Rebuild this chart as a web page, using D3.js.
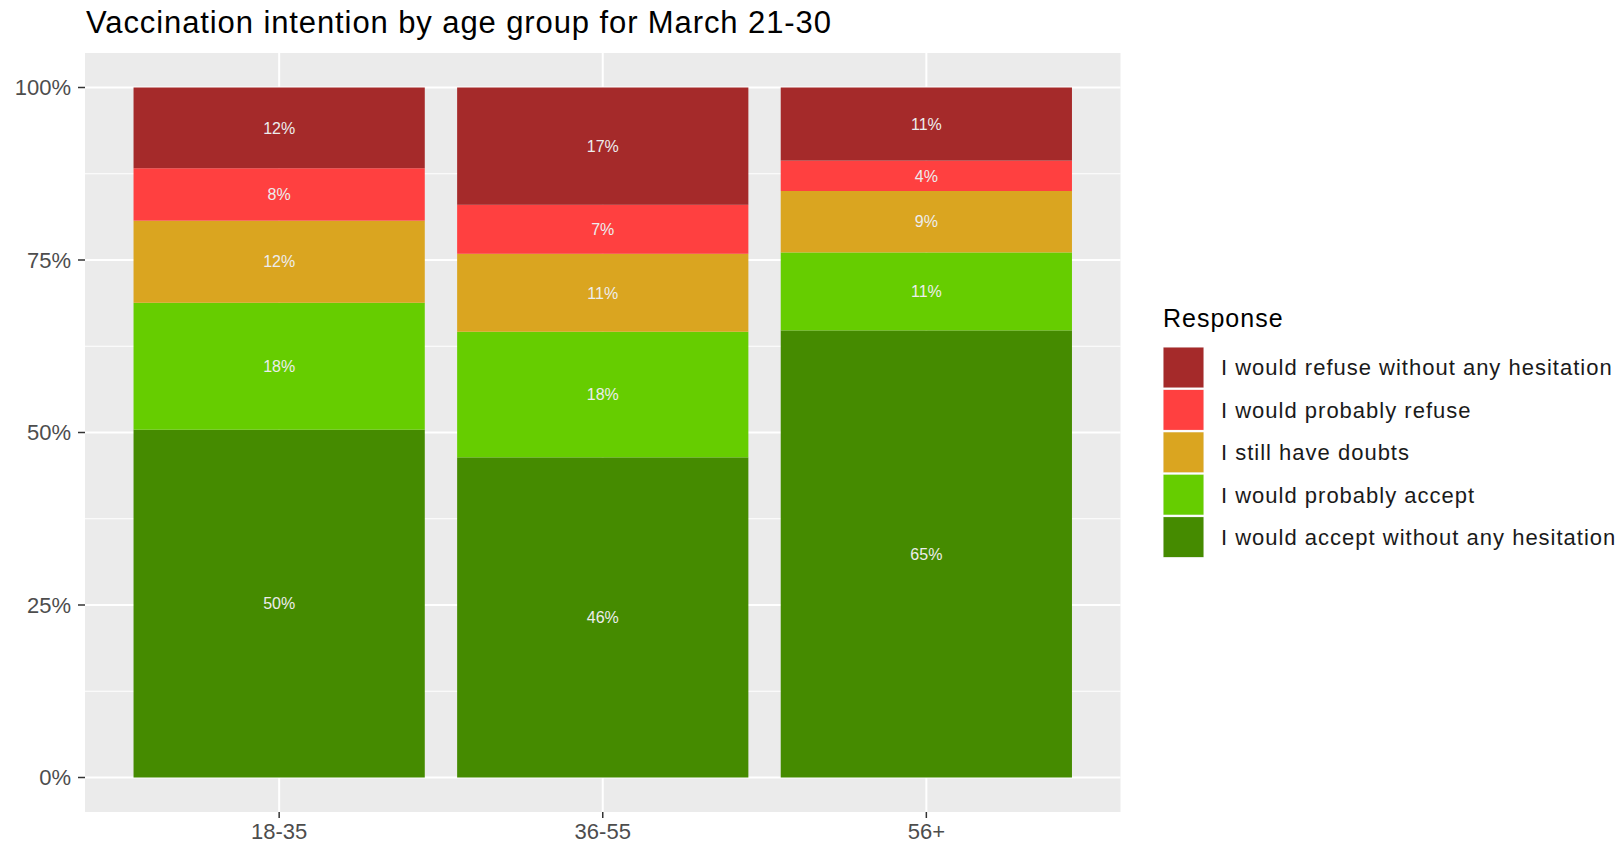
<!DOCTYPE html>
<html>
<head>
<meta charset="utf-8">
<script src="https://cdn.jsdelivr.net/npm/d3@7"></script>
<style>
  html, body { margin: 0; padding: 0; background: #fff; }
  svg { display: block; font-family: "Liberation Sans", Arial, Helvetica, sans-serif; }
</style>
</head>
<body>
<svg id="chart" width="1622" height="844"></svg>
<script>
// ---- data ----
const title = "Vaccination intention by age group for March 21-30";
const ageGroups = ["18-35", "36-55", "56+"];
// stacking order from bottom to top
const responses = [
  "I would accept without any hesitation",
  "I would probably accept",
  "I still have doubts",
  "I would probably refuse",
  "I would refuse without any hesitation"
];
const acceptNoHesitation = [50.4, 46.4, 64.8];
const probablyAccept     = [18.4, 18.2, 11.3];
const stillDoubts        = [11.9, 11.3, 8.9];
const probablyRefuse     = [7.6, 7.1, 4.4];
const refuseNoHesitation = [11.7, 17.0, 10.6];
const yTicks = [0, 25, 50, 75, 100];
const legendTitle = "Response";

const seriesValues = [acceptNoHesitation, probablyAccept, stillDoubts, probablyRefuse, refuseNoHesitation];
const colors = ["#458B00", "#66CD00", "#DAA520", "#FF4040", "#A52A2A"];

// ---- layout ----
const panel = { left: 85, right: 1120.5, top: 53, bottom: 812 };
const svg = d3.select("#chart");

// scales (ggplot-like expansion)
const x = d3.scaleLinear().domain([0.4, 3.6]).range([panel.left, panel.right]);
const y = d3.scaleLinear().domain([-5, 105]).range([panel.bottom, panel.top]);
const barWidth = (x(1.9) - x(1));

// table for stack
const table = ageGroups.map((g, i) => {
  const row = { group: g };
  responses.forEach((r, k) => row[r] = seriesValues[k][i]);
  return row;
});
const stack = d3.stack().keys(responses);
const stacked = stack(table);

// panel background
svg.append("rect")
  .attr("x", panel.left).attr("y", panel.top)
  .attr("width", panel.right - panel.left).attr("height", panel.bottom - panel.top)
  .attr("fill", "#EBEBEB");

// minor gridlines
const minor = [12.5, 37.5, 62.5, 87.5];
svg.append("g").selectAll("line").data(minor).join("line")
  .attr("x1", panel.left).attr("x2", panel.right)
  .attr("y1", d => y(d)).attr("y2", d => y(d))
  .attr("stroke", "#fff").attr("stroke-width", 1);
// major y gridlines
svg.append("g").selectAll("line").data(yTicks).join("line")
  .attr("x1", panel.left).attr("x2", panel.right)
  .attr("y1", d => y(d)).attr("y2", d => y(d))
  .attr("stroke", "#fff").attr("stroke-width", 2);
// major x gridlines
svg.append("g").selectAll("line").data(ageGroups).join("line")
  .attr("x1", (d, i) => x(i + 1)).attr("x2", (d, i) => x(i + 1))
  .attr("y1", panel.top).attr("y2", panel.bottom)
  .attr("stroke", "#fff").attr("stroke-width", 2);

// bars
const layers = svg.append("g").selectAll("g").data(stacked).join("g")
  .attr("fill", (d, k) => colors[k]);
layers.selectAll("rect").data(d => d).join("rect")
  .attr("x", (d, i) => x(i + 1) - barWidth / 2)
  .attr("width", barWidth)
  .attr("y", d => y(d[1]))
  .attr("height", d => y(d[0]) - y(d[1]));

// bar labels
const labelG = svg.append("g");
stacked.forEach((layer) => {
  layer.forEach((d, i) => {
    labelG.append("text")
      .attr("x", x(i + 1))
      .attr("y", y((d[0] + d[1]) / 2))
      .attr("dy", "0.36em")
      .attr("text-anchor", "middle")
      .attr("font-size", 16)
      .attr("fill", "#EDEDED")
      .text(Math.round(d[1] - d[0]) + "%");
  });
});

// y axis
const yAxis = svg.append("g");
yAxis.selectAll("line").data(yTicks).join("line")
  .attr("x1", panel.left - 7).attr("x2", panel.left)
  .attr("y1", d => y(d)).attr("y2", d => y(d))
  .attr("stroke", "#333").attr("stroke-width", 1.5);
yAxis.selectAll("text").data(yTicks).join("text")
  .attr("x", panel.left - 14)
  .attr("y", d => y(d))
  .attr("dy", "0.36em")
  .attr("text-anchor", "end")
  .attr("font-size", 22)
  .attr("fill", "#4D4D4D")
  .text(d => d + "%");

// x axis
const xAxis = svg.append("g");
xAxis.selectAll("line").data(ageGroups).join("line")
  .attr("x1", (d, i) => x(i + 1)).attr("x2", (d, i) => x(i + 1))
  .attr("y1", panel.bottom).attr("y2", panel.bottom + 6)
  .attr("stroke", "#333").attr("stroke-width", 1.5);
xAxis.selectAll("text").data(ageGroups).join("text")
  .attr("x", (d, i) => x(i + 1))
  .attr("y", 839)
  .attr("text-anchor", "middle")
  .attr("font-size", 22)
  .attr("fill", "#4D4D4D")
  .text(d => d);

// title
svg.append("text")
  .attr("x", 86).attr("y", 32.5)
  .attr("font-size", 31)
  .attr("letter-spacing", 0.9)
  .attr("fill", "#000")
  .text(title);

// legend
const legend = svg.append("g").attr("transform", "translate(1163,0)");
legend.append("text")
  .attr("x", 0).attr("y", 327)
  .attr("font-size", 25)
  .attr("letter-spacing", 1)
  .attr("fill", "#000")
  .text(legendTitle);
const legendOrder = responses.slice().reverse();
const keyStep = 42.4;
const keyTop = 347;
const items = legend.selectAll("g.item").data(legendOrder).join("g")
  .attr("class", "item")
  .attr("transform", (d, i) => `translate(0,${keyTop + i * keyStep})`);
items.append("rect")
  .attr("x", 0).attr("y", 0)
  .attr("width", 41).attr("height", 41)
  .attr("fill", "#F2F2F2");
items.append("rect")
  .attr("x", 0.5).attr("y", 0.5)
  .attr("width", 40).attr("height", 40)
  .attr("fill", d => colors[responses.indexOf(d)]);
items.append("text")
  .attr("x", 58).attr("y", 20.5)
  .attr("dy", "0.36em")
  .attr("font-size", 22)
  .attr("letter-spacing", 1)
  .attr("fill", "#1A1A1A")
  .text(d => d);
</script>
</body>
</html>
